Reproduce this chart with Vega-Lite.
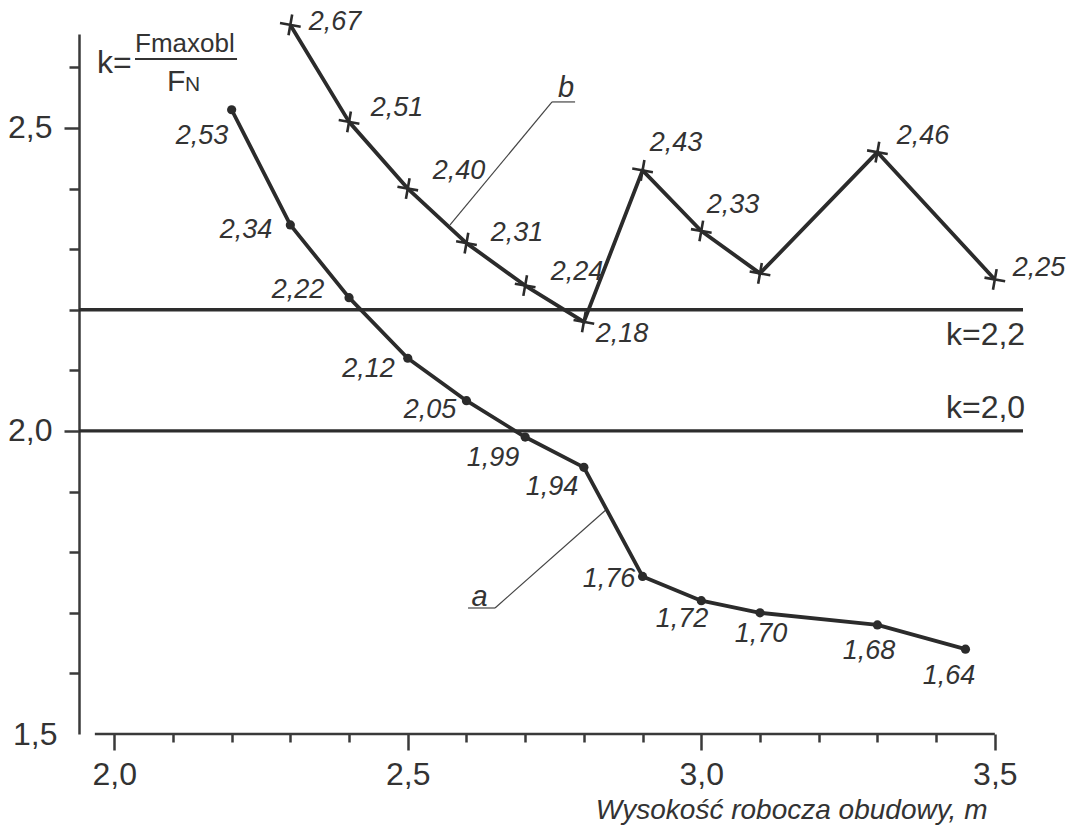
{
  "$schema": "https://vega.github.io/schema/vega-lite/v6.json",
  "width": 944,
  "height": 700,
  "autosize": {"type": "none"},
  "padding": {"left": 79, "top": 34, "right": 50, "bottom": 100},
  "background": "white",
  "config": {"view": {"stroke": null}, "font": "Liberation Sans"},
  "datasets": {
    "series": [
      {"series": "a", "x": 2.2, "y": 2.53},
      {"series": "a", "x": 2.3, "y": 2.34},
      {"series": "a", "x": 2.4, "y": 2.22},
      {"series": "a", "x": 2.5, "y": 2.12},
      {"series": "a", "x": 2.6, "y": 2.05},
      {"series": "a", "x": 2.7, "y": 1.99},
      {"series": "a", "x": 2.8, "y": 1.94},
      {"series": "a", "x": 2.9, "y": 1.76},
      {"series": "a", "x": 3.0, "y": 1.72},
      {"series": "a", "x": 3.1, "y": 1.70},
      {"series": "a", "x": 3.3, "y": 1.68},
      {"series": "a", "x": 3.45, "y": 1.64},
      {"series": "b", "x": 2.3, "y": 2.67},
      {"series": "b", "x": 2.4, "y": 2.51},
      {"series": "b", "x": 2.5, "y": 2.40},
      {"series": "b", "x": 2.6, "y": 2.31},
      {"series": "b", "x": 2.7, "y": 2.24},
      {"series": "b", "x": 2.8, "y": 2.18},
      {"series": "b", "x": 2.9, "y": 2.43},
      {"series": "b", "x": 3.0, "y": 2.33},
      {"series": "b", "x": 3.1, "y": 2.26},
      {"series": "b", "x": 3.3, "y": 2.46},
      {"series": "b", "x": 3.5, "y": 2.25}
    ],
    "labels": [
      {"t": "2,53", "x": 2.1495, "y": 2.486},
      {"t": "2,34", "x": 2.2245, "y": 2.3317},
      {"t": "2,22", "x": 2.3131, "y": 2.2327},
      {"t": "2,12", "x": 2.4332, "y": 2.1023},
      {"t": "2,05", "x": 2.538, "y": 2.0347},
      {"t": "1,99", "x": 2.6453, "y": 1.9554},
      {"t": "1,94", "x": 2.7458, "y": 1.9076},
      {"t": "1,76", "x": 2.8429, "y": 1.7558},
      {"t": "1,72", "x": 2.9673, "y": 1.6898},
      {"t": "1,70", "x": 3.1018, "y": 1.665},
      {"t": "1,68", "x": 3.2858, "y": 1.637},
      {"t": "1,64", "x": 3.4221, "y": 1.5957},
      {"t": "2,67", "x": 2.3761, "y": 2.6749},
      {"t": "2,51", "x": 2.4817, "y": 2.533},
      {"t": "2,40", "x": 2.5874, "y": 2.429},
      {"t": "2,31", "x": 2.6862, "y": 2.3267},
      {"t": "2,24", "x": 2.7884, "y": 2.2624},
      {"t": "2,18", "x": 2.865, "y": 2.16},
      {"t": "2,43", "x": 2.957, "y": 2.4752},
      {"t": "2,33", "x": 3.0541, "y": 2.373},
      {"t": "2,46", "x": 3.3778, "y": 2.4868},
      {"t": "2,25", "x": 3.5754, "y": 2.269}
    ],
    "klabels": [
      {"t": "k=2,2", "x": 3.5516, "y": 2.1419},
      {"t": "k=2,0", "x": 3.5516, "y": 2.0215}
    ],
    "ab": [
      {"t": "a", "x": 2.6223, "y": 1.712},
      {"t": "b", "x": 2.7696, "y": 2.5512}
    ],
    "notes": [
      {"t": "k=", "x": 1.9707, "y": 2.5908},
      {"t": "Fmaxobl", "x": 2.0354, "y": 2.6254},
      {"t": "F", "x": 2.0899, "y": 2.5611},
      {"t": "N", "x": 2.1206, "y": 2.5611}
    ],
    "rules": [
      {"kind": "k", "x": 1.94, "x2": 3.548, "y": 2.2, "y2": 2.2},
      {"kind": "k", "x": 1.94, "x2": 3.548, "y": 2.0, "y2": 2.0},
      {"kind": "axis", "x": 1.967, "x2": 3.5, "y": 1.5, "y2": 1.5},
      {"kind": "leader", "x": 2.6027, "x2": 2.6487, "y": 1.7079, "y2": 1.7079},
      {"kind": "leader", "x": 2.6487, "x2": 2.8378, "y": 1.7079, "y2": 1.87},
      {"kind": "leader", "x": 2.7458, "x2": 2.785, "y": 2.5429, "y2": 2.5429},
      {"kind": "leader", "x": 2.7458, "x2": 2.572, "y": 2.5429, "y2": 2.34},
      {"kind": "frac", "x": 2.0354, "x2": 2.2092, "y": 2.6139, "y2": 2.6139}
    ]
  },
  "encoding": {
    "x": {
      "field": "x",
      "type": "quantitative",
      "scale": {"domain": [1.94, 3.548], "nice": false, "zero": false},
      "axis": {
        "values": [2, 2.1, 2.2, 2.3, 2.4, 2.5, 2.6, 2.7, 2.8, 2.9, 3, 3.1, 3.2, 3.3, 3.4, 3.5],
        "domain": false,
        "grid": false,
        "tickColor": "#3a3a3a",
        "tickWidth": 2.5,
        "tickSize": {"condition": {"test": "datum.value == 2 || datum.value == 2.5 || datum.value == 3 || datum.value == 3.5", "value": 16}, "value": 8},
        "labelExpr": "datum.value == 2 || datum.value == 2.5 || datum.value == 3 || datum.value == 3.5 ? replace(format(datum.value, '.1f'), '.', ',') : ''",
        "labelFont": "Liberation Sans",
        "labelFontSize": 32,
        "labelColor": "#333333",
        "labelPadding": 9,
        "labelBaseline": "top",
        "labelFlush": false,
        "labelOverlap": false,
        "labelBound": false,
        "title": "Wysokość robocza obudowy, m",
        "titleFont": "Liberation Sans",
        "titleFontSize": 28,
        "titleFontStyle": "italic",
        "titleFontWeight": "normal",
        "titleColor": "#333333",
        "titleAlign": "right",
        "titleAnchor": "end",
        "titleBaseline": "alphabetic",
        "titleX": 908,
        "titleY": 84
      }
    },
    "y": {
      "field": "y",
      "type": "quantitative",
      "scale": {"domain": [1.5, 2.655], "nice": false, "zero": false},
      "axis": {
        "values": [1.5, 1.6, 1.7, 1.8, 1.9, 2, 2.1, 2.2, 2.3, 2.4, 2.5, 2.6],
        "domain": true,
        "domainColor": "#3a3a3a",
        "domainWidth": 2.5,
        "grid": false,
        "tickColor": "#3a3a3a",
        "tickWidth": 2.5,
        "tickSize": {"condition": {"test": "datum.value == 2 || datum.value == 2.5", "value": 15}, "value": 10},
        "tickOpacity": {"condition": {"test": "datum.value == 1.5", "value": 0}, "value": 1},
        "labelExpr": "datum.value == 1.5 || datum.value == 2 || datum.value == 2.5 ? replace(format(datum.value, '.1f'), '.', ',') : ''",
        "labelFont": "Liberation Sans",
        "labelFontSize": 32,
        "labelColor": "#333333",
        "labelPadding": 12,
        "labelFlush": false,
        "labelOverlap": false,
        "labelBound": false,
        "title": null
      }
    }
  },
  "layer": [
    {
      "data": {"name": "rules"},
      "transform": [{"filter": "datum.kind == 'k'"}],
      "mark": {"type": "rule", "color": "#2d2d2d", "strokeWidth": 3.3},
      "encoding": {"x2": {"field": "x2"}, "y2": {"field": "y2"}}
    },
    {
      "data": {"name": "rules"},
      "transform": [{"filter": "datum.kind == 'axis'"}],
      "mark": {"type": "rule", "color": "#3a3a3a", "strokeWidth": 2.5},
      "encoding": {"x2": {"field": "x2"}, "y2": {"field": "y2"}}
    },
    {
      "data": {"name": "rules"},
      "transform": [{"filter": "datum.kind == 'leader'"}],
      "mark": {"type": "rule", "color": "#444444", "strokeWidth": 1.2},
      "encoding": {"x2": {"field": "x2"}, "y2": {"field": "y2"}}
    },
    {
      "data": {"name": "rules"},
      "transform": [{"filter": "datum.kind == 'frac'"}],
      "mark": {"type": "rule", "color": "#333333", "strokeWidth": 2},
      "encoding": {"x2": {"field": "x2"}, "y2": {"field": "y2"}}
    },
    {
      "data": {"name": "series"},
      "mark": {"type": "line", "color": "#2b2b2b", "strokeWidth": 3.8, "strokeJoin": "round"},
      "encoding": {"detail": {"field": "series"}}
    },
    {
      "data": {"name": "series"},
      "transform": [{"filter": "datum.series == 'a'"}],
      "mark": {"type": "point", "shape": "circle", "filled": true, "size": 85, "color": "#2b2b2b", "opacity": 1}
    },
    {
      "data": {"name": "series"},
      "transform": [{"filter": "datum.series == 'b'"}],
      "mark": {"type": "point", "shape": "M-1,0H1M0,-1V1", "filled": false, "size": 441, "strokeWidth": 2.6, "color": "#2b2b2b", "opacity": 1, "angle": 10}
    },
    {
      "data": {"name": "labels"},
      "mark": {"type": "text", "font": "Liberation Sans", "fontSize": 27, "fontStyle": "italic", "align": "center", "baseline": "middle", "color": "#333333"},
      "encoding": {"text": {"field": "t"}}
    },
    {
      "data": {"name": "klabels"},
      "mark": {"type": "text", "font": "Liberation Sans", "fontSize": 32, "align": "right", "baseline": "alphabetic", "color": "#333333"},
      "encoding": {"text": {"field": "t"}}
    },
    {
      "data": {"name": "ab"},
      "mark": {"type": "text", "font": "Liberation Sans", "fontSize": 29, "fontStyle": "italic", "align": "center", "baseline": "alphabetic", "color": "#333333"},
      "encoding": {"text": {"field": "t"}}
    },
    {
      "data": {"name": "notes"},
      "transform": [{"filter": "datum.t == 'k='"}],
      "mark": {"type": "text", "font": "Liberation Sans", "fontSize": 32, "align": "left", "baseline": "alphabetic", "color": "#333333"},
      "encoding": {"text": {"field": "t"}}
    },
    {
      "data": {"name": "notes"},
      "transform": [{"filter": "datum.t == 'Fmaxobl'"}],
      "mark": {"type": "text", "font": "Liberation Sans", "fontSize": 26, "align": "left", "baseline": "alphabetic", "color": "#333333"},
      "encoding": {"text": {"field": "t"}}
    },
    {
      "data": {"name": "notes"},
      "transform": [{"filter": "datum.t == 'F'"}],
      "mark": {"type": "text", "font": "Liberation Sans", "fontSize": 30, "align": "left", "baseline": "alphabetic", "color": "#333333"},
      "encoding": {"text": {"field": "t"}}
    },
    {
      "data": {"name": "notes"},
      "transform": [{"filter": "datum.t == 'N'"}],
      "mark": {"type": "text", "font": "Liberation Sans", "fontSize": 21, "align": "left", "baseline": "alphabetic", "color": "#333333"},
      "encoding": {"text": {"field": "t"}}
    }
  ]
}
